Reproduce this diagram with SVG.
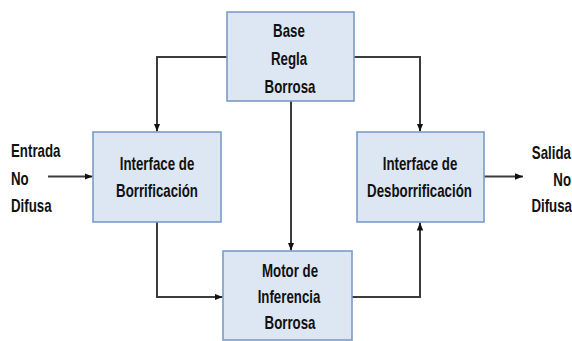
<svg xmlns="http://www.w3.org/2000/svg" width="572" height="341" viewBox="0 0 572 341">
<style>
.box{fill:#dde7f3;stroke:#7b9cc9;stroke-width:1.6}
.t{font-family:"Liberation Sans",Arial,sans-serif;font-weight:bold;font-size:19px;fill:#111}
.m{text-anchor:middle}
.s{text-anchor:start}
.e{text-anchor:end}
.c{fill:none;stroke:#3c3c3c;stroke-width:2;marker-end:url(#ah)}
</style>
<defs>
<marker id="ah" markerUnits="userSpaceOnUse" markerWidth="8" markerHeight="8" viewBox="0 0 8 8" refX="8" refY="4" orient="auto">
<path d="M0,0.8 L8,4 L0,7.2 Z" fill="#111"/>
</marker>
</defs>
<rect width="572" height="341" fill="#fff"/>
<g id="connectors">
<path class="c" d="M227,57 H157 V131.5"/>
<path class="c" d="M354,57 H420 V131.5"/>
<path class="c" d="M291,101 V250.5"/>
<path class="c" d="M157,222 V297 H222.5"/>
<path class="c" d="M352,297 H420 V222.5"/>
<path class="c" d="M48,176.5 H92.5"/>
<path class="c" d="M484,176.5 H523"/>
</g>
<g id="base">
<rect class="box" x="227" y="12" width="127" height="89"/>
<text class="t m" transform="translate(289,37) scale(0.7,1)">Base</text>
<text class="t m" transform="translate(289,65) scale(0.7,1)">Regla</text>
<text class="t m" transform="translate(290,92.5) scale(0.7,1)">Borrosa</text>
</g>
<g id="borrificacion">
<rect class="box" x="93" y="132" width="128" height="90"/>
<text class="t m" transform="translate(157,170) scale(0.7,1)">Interface de</text>
<text class="t m" transform="translate(157,196.5) scale(0.7,1)">Borrificación</text>
</g>
<g id="desborrificacion">
<rect class="box" x="357" y="132" width="127" height="90"/>
<text class="t m" transform="translate(420,170) scale(0.7,1)">Interface de</text>
<text class="t m" transform="translate(419.5,196.5) scale(0.7,1)">Desborrificación</text>
</g>
<g id="motor">
<rect class="box" x="223" y="251" width="129" height="89"/>
<text class="t m" transform="translate(290,277) scale(0.7,1)">Motor de</text>
<text class="t m" transform="translate(289,303) scale(0.7,1)">Inferencia</text>
<text class="t m" transform="translate(290,328.5) scale(0.7,1)">Borrosa</text>
</g>
<g id="entrada">
<text class="t s" transform="translate(11,157) scale(0.7,1)">Entrada</text>
<text class="t s" transform="translate(11,185) scale(0.7,1)">No</text>
<text class="t s" transform="translate(11,212) scale(0.7,1)">Difusa</text>
</g>
<g id="salida">
<text class="t e" transform="translate(571,159) scale(0.7,1)">Salida</text>
<text class="t e" transform="translate(571,186) scale(0.7,1)">No</text>
<text class="t e" transform="translate(572,212) scale(0.7,1)">Difusa</text>
</g>
</svg>
